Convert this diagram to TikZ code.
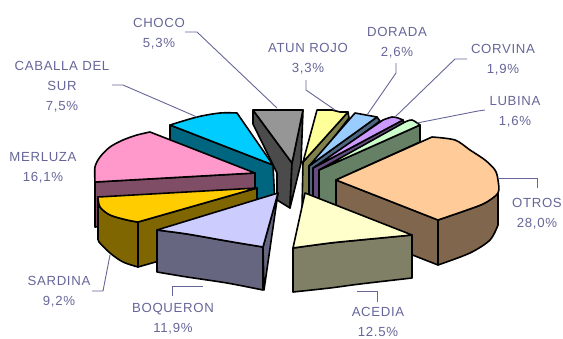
\documentclass[tikz,border=0pt]{standalone}
\usepackage{fontspec}
\setmainfont{Liberation Sans}
\definecolor{lbl}{RGB}{102,102,153}
\definecolor{otT}{RGB}{255,204,153}\definecolor{otS}{RGB}{128,102,76}
\definecolor{acT}{RGB}{255,255,204}\definecolor{acS}{RGB}{128,128,102}
\definecolor{boT}{RGB}{204,204,255}\definecolor{boS}{RGB}{102,102,128}
\definecolor{saT}{RGB}{255,204,0}\definecolor{saS}{RGB}{128,102,0}
\definecolor{meT}{RGB}{255,153,204}\definecolor{meS}{RGB}{128,77,102}
\definecolor{caT}{RGB}{0,204,255}\definecolor{caS}{RGB}{0,102,128}
\definecolor{chT}{RGB}{150,150,150}\definecolor{chS}{RGB}{75,75,75}
\definecolor{atT}{RGB}{255,255,153}\definecolor{atS}{RGB}{128,128,77}
\definecolor{doT}{RGB}{153,204,255}\definecolor{doS}{RGB}{77,102,128}
\definecolor{coT}{RGB}{204,153,255}\definecolor{coS}{RGB}{102,77,128}
\definecolor{luT}{RGB}{204,255,204}\definecolor{luS}{RGB}{102,128,102}
\tikzset{
  pie/.style={draw=black, line width=1.6pt, line join=round},
  lab/.style={text=lbl, font=\fontsize{13.2}{20}\selectfont\addfontfeature{LetterSpace=5}, align=center, inner sep=0pt},
  lead/.style={draw=lbl, line width=0.9pt},
}
\begin{document}
\begin{tikzpicture}[x=1pt,y=-1pt]
\useasboundingbox (0,0) rectangle (563,338);
% ---------- CHOCO ----------
\filldraw[pie,fill=chS] (253,110) -- (292,163) -- (290,208) -- (277,200) -- (277,173) -- (253,124) -- cycle;
\filldraw[pie,fill=chS] (303,110) -- (301,163) -- (290,208) -- (292,163) -- cycle;
\filldraw[pie,fill=chT] (253,110) -- (303,110) -- (292,163) -- cycle;
% ---------- ATUN ROJO ----------
\filldraw[pie,fill=atS] (303,162) -- (348,112) -- (349,118) -- (310,168) -- (309,200) -- (302,208) -- cycle;
\filldraw[pie,fill=atT] (303,162) -- (317,110) -- (332,110) -- (340,112) -- (348,112) -- cycle;
% ---------- DORADA ----------
\filldraw[pie,fill=doS] (309,166) -- (377,117) -- (380,121) -- (314,170) -- (314,210) -- (309,210) -- cycle;
\filldraw[pie,fill=doT] (309,166) -- (355,113) -- plot[smooth] coordinates {(355,113) (366,115) (377,117)} -- cycle;
% ---------- CORVINA ----------
\filldraw[pie,fill=coS] (313,168) -- (403,120) -- (405,126) -- (319,173) -- (319,212) -- (313,212) -- cycle;
\filldraw[pie,fill=coT] (313,168) -- (383,120) -- plot[smooth] coordinates {(383,120) (392,117) (398,118) (403,120)} -- cycle;
% ---------- LUBINA ----------
\filldraw[pie,fill=luS] (319,170) -- (420,125) -- (420,142) -- (336,180) -- (336,215) -- (319,215) -- cycle;
\filldraw[pie,fill=luT] (319,170) -- (405,122) -- plot[smooth] coordinates {(405,122) (412,120) (420,125)} -- cycle;
% ---------- CABALLA DEL SUR ----------
\filldraw[pie,fill=caS] (170,125) -- (273,165) -- (275,205) -- (170,165) -- cycle;
\filldraw[pie,fill=caT] plot[smooth] coordinates {(170,125) (197,117) (220,113) (237,113)} -- (273,165) -- cycle;
% ---------- MERLUZA ----------
\filldraw[pie,fill=meS] (95,182) -- (255,173) -- (255,218) -- (95,227) -- cycle;
\filldraw[pie,fill=meT] plot[smooth] coordinates {(95,182) (95,167) (100,157) (110,147) (123,140) (137,135) (150,132)} -- (255,173) -- cycle;
% ---------- SARDINA ----------
\filldraw[pie,fill=saS] (138,222) -- (257,188) -- (257,233) -- (138,267) -- cycle;
\filldraw[pie,fill=saS] plot[smooth] coordinates {(98,197) (100,207) (110,215) (127,220) (138,222)} -- (138,267) -- plot[smooth] coordinates {(138,267) (123,262) (110,253) (99,242) (98,238)} -- cycle;
\filldraw[pie,fill=saT] plot[smooth] coordinates {(98,197) (100,207) (110,215) (127,220) (138,222)} -- (257,188) -- cycle;
% ---------- OTROS ----------
\filldraw[pie,fill=otS] (336,180) -- (438,220) -- (438,265) -- (336,225) -- cycle;
\filldraw[pie,fill=otS] plot[smooth] coordinates {(438,220) (467,210) (485,203) (498,193)} -- (498,225) -- plot[smooth] coordinates {(498,225) (490,240) (470,253) (438,265)} -- cycle;
\filldraw[pie,fill=otT] (336,180) -- (432,137) -- plot[smooth] coordinates {(432,137) (455,140) (470,150) (485,160) (495,170) (498,180) (498,193) (485,203) (467,210) (438,220)} -- cycle;
% ---------- BOQUERON ----------
\filldraw[pie,fill=boS] (263,247) -- (278,193) -- (264,290) -- cycle;
\filldraw[pie,fill=boS] plot[smooth] coordinates {(157,230) (187,234) (227,241) (263,247)} -- (263,290) -- plot[smooth] coordinates {(263,290) (227,283) (187,277) (157,272)} -- cycle;
\filldraw[pie,fill=boT] (157,230) -- (278,193) -- (263,247) -- plot[smooth] coordinates {(263,247) (227,241) (187,234) (157,230)} -- cycle;
% ---------- ACEDIA ----------
\filldraw[pie,fill=acS] plot[smooth] coordinates {(293,248) (330,243) (360,240) (412,235)} -- (412,278) -- plot[smooth] coordinates {(412,278) (360,284) (330,288) (293,292)} -- cycle;
\filldraw[pie,fill=acT] (305,193) -- (412,235) -- plot[smooth] coordinates {(412,235) (360,240) (330,243) (293,248)} -- cycle;
% ---------- labels ----------
\node[lab] (lchoco) at (159,34) {CHOCO\\5,3\%};
\node[lab] (lcab) at (62,87) {CABALLA DEL\\SUR\\7,5\%};
\node[lab] (lmer) at (43,168) {MERLUZA\\16,1\%};
\node[lab] (lsar) at (59,292) {SARDINA\\9,2\%};
\node[lab] (lboq) at (173,319) {BOQUERON\\11,9\%};
\node[lab] (lace) at (378,322) {ACEDIA\\12.5\%};
\node[lab] (lotr) at (537,214) {OTROS\\28,0\%};
\node[lab] (latu) at (308,59) {ATUN ROJO\\3,3\%};
\node[lab] (ldor) at (397,43) {DORADA\\2,6\%};
\node[lab] (lcor) at (503,60) {CORVINA\\1,9\%};
\node[lab] (llub) at (515,112) {LUBINA\\1,6\%};
% ---------- leader lines ----------
\coordinate (c1) at (185,32); \coordinate (c2) at (277,108);
\draw[lead] (c1) -- (197,32) -- (c2);
\coordinate (k1) at (112,85); \coordinate (k2) at (197,117);
\draw[lead] (k1) -- (123,85) -- (k2);
\coordinate (s1) at (92,291); \coordinate (s2) at (110,255);
\draw[lead] (s1) -- (103,291) -- (s2);
\coordinate (b1) at (172,296); \coordinate (b2) at (203,286);
\draw[lead] (b1) -- (172,286) -- (b2);
\coordinate (a1) at (377,302); \coordinate (a2) at (357,291);
\draw[lead] (a1) -- (377,291) -- (a2);
\coordinate (o1) at (537,188); \coordinate (o2) at (498,178);
\draw[lead] (o1) -- (537,178) -- (o2);
\coordinate (t1) at (306,80); \coordinate (t2) at (335,110);
\draw[lead] (t1) -- (306,90) -- (t2);
\coordinate (d1) at (396,63); \coordinate (d2) at (367,115);
\draw[lead] (d1) -- (396,73) -- (d2);
\coordinate (r1) at (467,59); \coordinate (r2) at (395,117);
\draw[lead] (r1) -- (455,59) -- (r2);
\coordinate (u1) at (485,110); \coordinate (u2) at (417,123);
\draw[lead] (u1) -- (478,111) -- (u2);
\end{tikzpicture}
\end{document}
